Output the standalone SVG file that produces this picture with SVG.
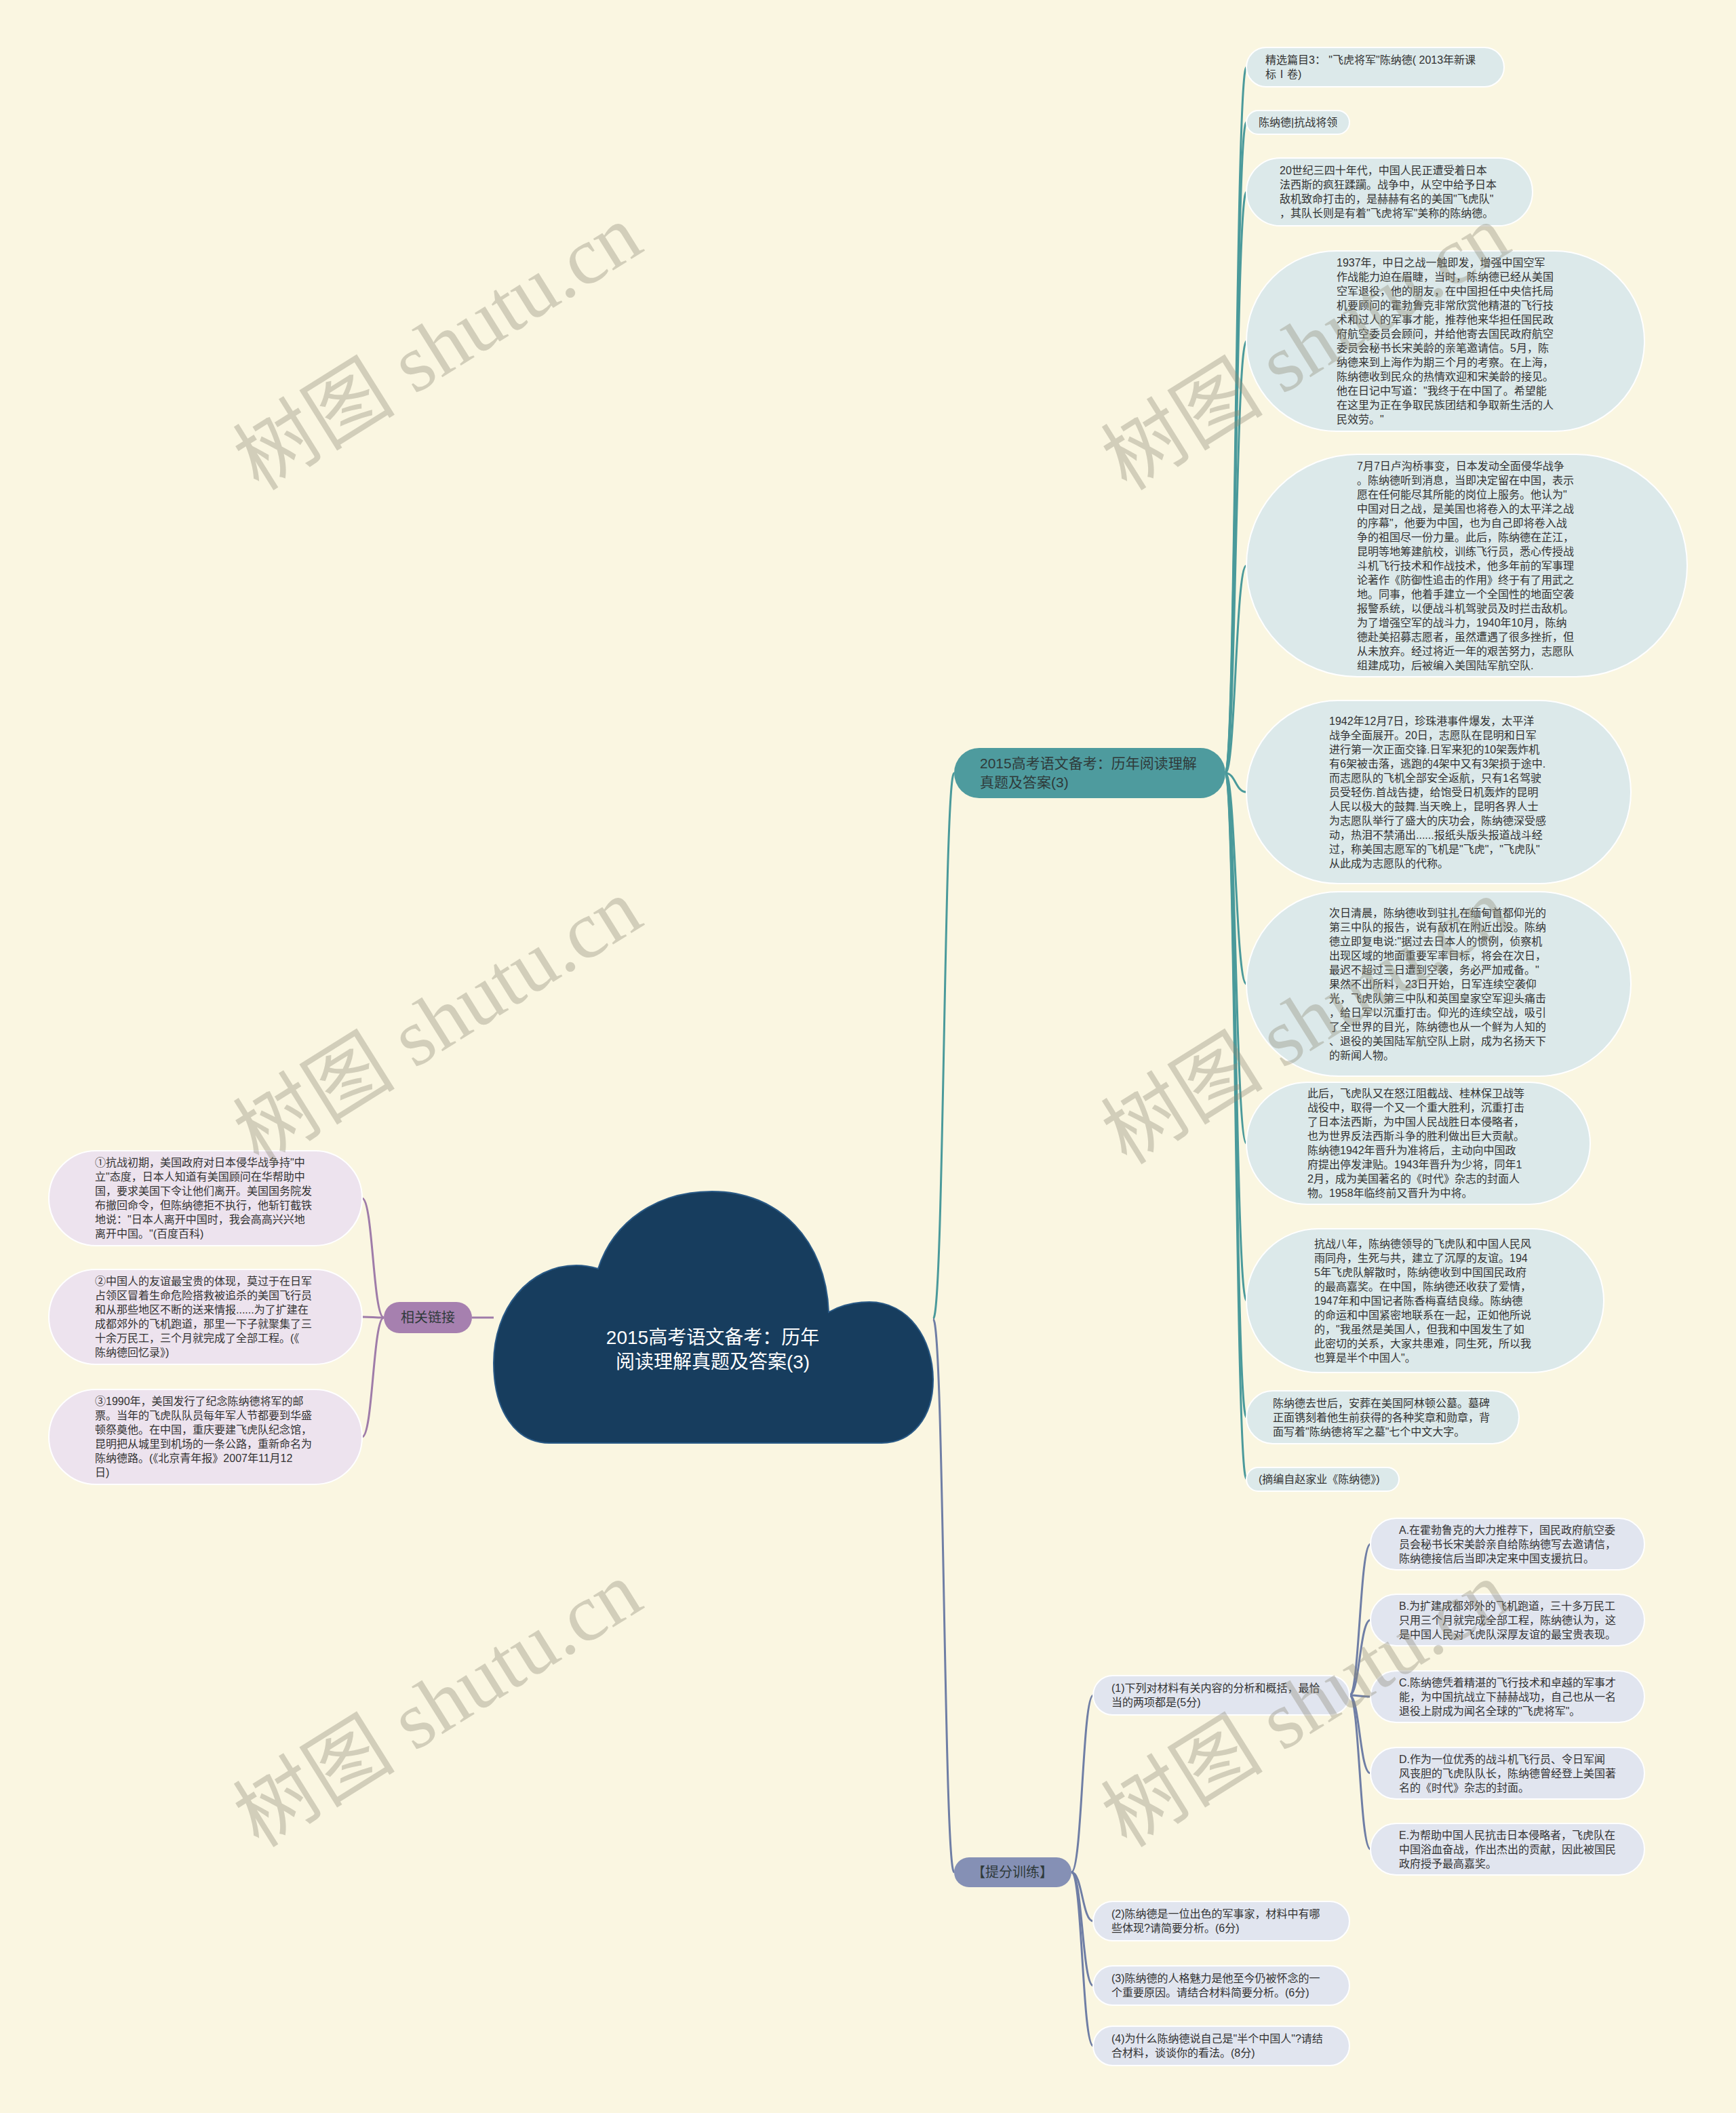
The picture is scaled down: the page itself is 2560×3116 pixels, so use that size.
<svg xmlns="http://www.w3.org/2000/svg" width="2560" height="3116" viewBox="0 0 2560 3116">
<style>
.t{font-family:"Liberation Sans","Noto Sans CJK SC",sans-serif;font-size:16px;fill:#333333}
.b{font-family:"Liberation Sans","Noto Sans CJK SC",sans-serif;font-size:21px;fill:#2f3a3a}
.lt{fill:#DCE9EA;stroke:#ffffff;stroke-width:2}
.lp{fill:#EDE3EE;stroke:#ffffff;stroke-width:2}
.ls{fill:#E1E5EF;stroke:#ffffff;stroke-width:2}
.ct{stroke:#4A9A9B;stroke-width:3;fill:none}
.cp{stroke:#9F7CA9;stroke-width:3;fill:none}
.cs{stroke:#6F7EA5;stroke-width:3;fill:none}
.wm{font-family:"Liberation Serif","Noto Sans CJK SC",serif;font-size:120px;fill:#8E8A76;opacity:0.36}
</style>
<rect x="0" y="0" width="2560" height="3116" fill="#FAF6E1"/>

<g id="connectors">
  <path class="ct" d="M1376 1945 C1392 1945 1392 1140 1407 1140"/>
  <path class="cs" d="M1376 1945 C1392 1945 1392 2761 1407 2761"/>
  <path class="cp" d="M728 1943 L696 1943"/>
  <path class="ct" d="M1807 1140 C1822 1140 1822 99 1838 99"/>
  <path class="ct" d="M1807 1140 C1822 1140 1822 180 1838 180"/>
  <path class="ct" d="M1807 1140 C1822 1140 1822 283 1838 283"/>
  <path class="ct" d="M1807 1140 C1822 1140 1822 503 1838 503"/>
  <path class="ct" d="M1807 1140 C1822 1140 1822 834 1838 834"/>
  <path class="ct" d="M1807 1140 C1822 1140 1822 1168 1838 1168"/>
  <path class="ct" d="M1807 1140 C1822 1140 1822 1451 1838 1451"/>
  <path class="ct" d="M1807 1140 C1822 1140 1822 1686 1838 1686"/>
  <path class="ct" d="M1807 1140 C1822 1140 1822 1918 1838 1918"/>
  <path class="ct" d="M1807 1140 C1822 1140 1822 2090 1838 2090"/>
  <path class="ct" d="M1807 1140 C1822 1140 1822 2181 1838 2181"/>
  <path class="cp" d="M566 1943 C550 1943 550 1767 534 1767"/>
  <path class="cp" d="M566 1943 C550 1943 550 1942 534 1942"/>
  <path class="cp" d="M566 1943 C550 1943 550 2119 534 2119"/>
  <path class="cs" d="M1580 2761 C1596 2761 1596 2500 1612 2500"/>
  <path class="cs" d="M1580 2761 C1596 2761 1596 2833 1612 2833"/>
  <path class="cs" d="M1580 2761 C1596 2761 1596 2928 1612 2928"/>
  <path class="cs" d="M1580 2761 C1596 2761 1596 3017 1612 3017"/>
  <path class="cs" d="M1990 2500 C2005 2500 2005 2277 2021 2277"/>
  <path class="cs" d="M1990 2500 C2005 2500 2005 2389 2021 2389"/>
  <path class="cs" d="M1990 2500 C2005 2500 2005 2502 2021 2502"/>
  <path class="cs" d="M1990 2500 C2005 2500 2005 2615 2021 2615"/>
  <path class="cs" d="M1990 2500 C2005 2500 2005 2727 2021 2727"/>
</g>

<g id="root">
  <path d="M810 2128 C760 2128 728 2080 728 2010 C728 1930 780 1866 850 1866 C862 1866 872 1868 882 1871 C905 1800 970 1757 1050 1757 C1150 1757 1218 1830 1222 1935 C1240 1925 1262 1920 1282 1920 C1340 1920 1376 1975 1376 2035 C1376 2090 1345 2128 1300 2128 Z" fill="#173D5E" stroke="#2A5A86" stroke-width="2"/>
  <text font-family="Liberation Sans,Noto Sans CJK SC,sans-serif" font-size="28" fill="#ffffff" text-anchor="middle"><tspan x="1051" y="1982">2015高考语文备考：历年</tspan><tspan x="1051" y="2018">阅读理解真题及答案(3)</tspan></text>
</g>

<g id="branch-main">
  <rect x="1407" y="1103" width="400" height="74" rx="37" fill="#4E9B9E"/>
  <text class="b"><tspan x="1445" y="1133">2015高考语文备考：历年阅读理解</tspan><tspan x="1445" y="1161">真题及答案(3)</tspan></text>
</g>
<g id="branch-links">
  <rect x="566" y="1920" width="130" height="46" rx="23" fill="#A680AF"/>
  <text class="b" style="font-size:20px" x="631" y="1950" text-anchor="middle">相关链接</text>
</g>
<g id="branch-train">
  <rect x="1407" y="2739" width="173" height="44" rx="22" fill="#8590B5"/>
  <text class="b" style="font-size:20px" x="1493" y="2768" text-anchor="middle">【提分训练】</text>
</g>

<g id="n1"><rect class="lt" x="1838" y="70" width="380" height="58" rx="29"/>
<text class="t"><tspan x="1866" y="94">精选篇目3： "飞虎将军"陈纳德( 2013年新课</tspan><tspan x="1866" y="115">标Ⅰ卷)</tspan></text></g>
<g id="n2"><rect class="lt" x="1838" y="163" width="152" height="35" rx="17.5"/>
<text class="t" x="1856" y="186">陈纳德|抗战将领</text></g>
<g id="n3"><rect class="lt" x="1838" y="233" width="422" height="100" rx="50"/>
<text class="t"><tspan x="1887" y="257">20世纪三四十年代，中国人民正遭受着日本</tspan><tspan x="1887" y="278">法西斯的疯狂蹂躏。战争中，从空中给予日本</tspan><tspan x="1887" y="299">敌机致命打击的，是赫赫有名的美国"飞虎队"</tspan><tspan x="1887" y="320">，其队长则是有着"飞虎将军"美称的陈纳德。</tspan></text></g>
<g id="n4"><rect class="lt" x="1838" y="370" width="587" height="266" rx="133"/>
<text class="t"><tspan x="1971" y="393">1937年，中日之战一触即发，增强中国空军</tspan><tspan x="1971" y="414">作战能力迫在眉睫，当时，陈纳德已经从美国</tspan><tspan x="1971" y="435">空军退役，他的朋友，在中国担任中央信托局</tspan><tspan x="1971" y="456">机要顾问的霍勃鲁克非常欣赏他精湛的飞行技</tspan><tspan x="1971" y="477">术和过人的军事才能，推荐他来华担任国民政</tspan><tspan x="1971" y="498">府航空委员会顾问，并给他寄去国民政府航空</tspan><tspan x="1971" y="519">委员会秘书长宋美龄的亲笔邀请信。5月，陈</tspan><tspan x="1971" y="540">纳德来到上海作为期三个月的考察。在上海，</tspan><tspan x="1971" y="561">陈纳德收到民众的热情欢迎和宋美龄的接见。</tspan><tspan x="1971" y="582">他在日记中写道："我终于在中国了。希望能</tspan><tspan x="1971" y="603">在这里为正在争取民族团结和争取新生活的人</tspan><tspan x="1971" y="624">民效劳。"</tspan></text></g>
<g id="n5"><rect class="lt" x="1838" y="670" width="650" height="328" rx="164"/>
<text class="t"><tspan x="2001" y="693">7月7日卢沟桥事变，日本发动全面侵华战争</tspan><tspan x="2001" y="714">。陈纳德听到消息，当即决定留在中国，表示</tspan><tspan x="2001" y="735">愿在任何能尽其所能的岗位上服务。他认为"</tspan><tspan x="2001" y="756">中国对日之战，是美国也将卷入的太平洋之战</tspan><tspan x="2001" y="777">的序幕"，他要为中国，也为自己即将卷入战</tspan><tspan x="2001" y="798">争的祖国尽一份力量。此后，陈纳德在芷江，</tspan><tspan x="2001" y="819">昆明等地筹建航校，训练飞行员，悉心传授战</tspan><tspan x="2001" y="840">斗机飞行技术和作战技术，他多年前的军事理</tspan><tspan x="2001" y="861">论著作《防御性追击的作用》终于有了用武之</tspan><tspan x="2001" y="882">地。同事，他着手建立一个全国性的地面空袭</tspan><tspan x="2001" y="903">报警系统，以便战斗机驾驶员及时拦击敌机。</tspan><tspan x="2001" y="924">为了增强空军的战斗力，1940年10月，陈纳</tspan><tspan x="2001" y="945">德赴美招募志愿者，虽然遭遇了很多挫折，但</tspan><tspan x="2001" y="966">从未放弃。经过将近一年的艰苦努力，志愿队</tspan><tspan x="2001" y="987">组建成功，后被编入美国陆军航空队.</tspan></text></g>
<g id="n6"><rect class="lt" x="1838" y="1033" width="567" height="270" rx="135"/>
<text class="t"><tspan x="1960" y="1069">1942年12月7日，珍珠港事件爆发，太平洋</tspan><tspan x="1960" y="1090">战争全面展开。20日，志愿队在昆明和日军</tspan><tspan x="1960" y="1111">进行第一次正面交锋.日军来犯的10架轰炸机</tspan><tspan x="1960" y="1132">有6架被击落，逃跑的4架中又有3架损于途中.</tspan><tspan x="1960" y="1153">而志愿队的飞机全部安全返航，只有1名驾驶</tspan><tspan x="1960" y="1174">员受轻伤.首战告捷，给饱受日机轰炸的昆明</tspan><tspan x="1960" y="1195">人民以极大的鼓舞.当天晚上，昆明各界人士</tspan><tspan x="1960" y="1216">为志愿队举行了盛大的庆功会，陈纳德深受感</tspan><tspan x="1960" y="1237">动，热泪不禁涌出......报纸头版头报道战斗经</tspan><tspan x="1960" y="1258">过，称美国志愿军的飞机是"飞虎"，"飞虎队"</tspan><tspan x="1960" y="1279">从此成为志愿队的代称。</tspan></text></g>
<g id="n7"><rect class="lt" x="1838" y="1315" width="567" height="272" rx="136"/>
<text class="t"><tspan x="1960" y="1352">次日清晨，陈纳德收到驻扎在缅甸首都仰光的</tspan><tspan x="1960" y="1373">第三中队的报告，说有敌机在附近出没。陈纳</tspan><tspan x="1960" y="1394">德立即复电说:"据过去日本人的惯例，侦察机</tspan><tspan x="1960" y="1415">出现区域的地面重要军率目标，将会在次日，</tspan><tspan x="1960" y="1436">最迟不超过三日遭到空袭，务必严加戒备。"</tspan><tspan x="1960" y="1457">果然不出所料，23日开始，日军连续空袭仰</tspan><tspan x="1960" y="1478">光，飞虎队第三中队和英国皇家空军迎头痛击</tspan><tspan x="1960" y="1499">，给日军以沉重打击。仰光的连续空战，吸引</tspan><tspan x="1960" y="1520">了全世界的目光，陈纳德也从一个鲜为人知的</tspan><tspan x="1960" y="1541">、退役的美国陆军航空队上尉，成为名扬天下</tspan><tspan x="1960" y="1562">的新闻人物。</tspan></text></g>
<g id="n8"><rect class="lt" x="1838" y="1596" width="507" height="180" rx="90"/>
<text class="t"><tspan x="1928" y="1618">此后，飞虎队又在怒江阻截战、桂林保卫战等</tspan><tspan x="1928" y="1639">战役中，取得一个又一个重大胜利，沉重打击</tspan><tspan x="1928" y="1660">了日本法西斯，为中国人民战胜日本侵略者，</tspan><tspan x="1928" y="1681">也为世界反法西斯斗争的胜利做出巨大贡献。</tspan><tspan x="1928" y="1702">陈纳德1942年晋升为准将后，主动向中国政</tspan><tspan x="1928" y="1723">府提出停发津贴。1943年晋升为少将，同年1</tspan><tspan x="1928" y="1744">2月，成为美国著名的《时代》杂志的封面人</tspan><tspan x="1928" y="1765">物。1958年临终前又晋升为中将。</tspan></text></g>
<g id="n9"><rect class="lt" x="1838" y="1812" width="527" height="212" rx="106"/>
<text class="t"><tspan x="1938" y="1840">抗战八年，陈纳德领导的飞虎队和中国人民风</tspan><tspan x="1938" y="1861">雨同舟，生死与共，建立了沉厚的友谊。194</tspan><tspan x="1938" y="1882">5年飞虎队解散时，陈纳德收到中国国民政府</tspan><tspan x="1938" y="1903">的最高嘉奖。在中国，陈纳德还收获了爱情，</tspan><tspan x="1938" y="1924">1947年和中国记者陈香梅喜结良缘。陈纳德</tspan><tspan x="1938" y="1945">的命运和中国紧密地联系在一起，正如他所说</tspan><tspan x="1938" y="1966">的，"我虽然是美国人，但我和中国发生了如</tspan><tspan x="1938" y="1987">此密切的关系，大家共患难，同生死，所以我</tspan><tspan x="1938" y="2008">也算是半个中国人"。</tspan></text></g>
<g id="n10"><rect class="lt" x="1838" y="2051" width="402" height="78" rx="39"/>
<text class="t"><tspan x="1877" y="2075">陈纳德去世后，安葬在美国阿林顿公墓。墓碑</tspan><tspan x="1877" y="2096">正面镌刻着他生前获得的各种奖章和勋章，背</tspan><tspan x="1877" y="2117">面写着"陈纳德将军之墓"七个中文大字。</tspan></text></g>
<g id="n11"><rect class="lt" x="1838" y="2164" width="225" height="35" rx="17.5"/>
<text class="t" x="1856" y="2187">(摘编自赵家业《陈纳德》)</text></g>

<g id="q1"><rect class="ls" x="1612" y="2471" width="378" height="58" rx="29"/>
<text class="t"><tspan x="1639" y="2495">(1)下列对材料有关内容的分析和概括，最恰</tspan><tspan x="1639" y="2516">当的两项都是(5分)</tspan></text></g>
<g id="q2"><rect class="ls" x="1612" y="2804" width="378" height="58" rx="29"/>
<text class="t"><tspan x="1639" y="2828">(2)陈纳德是一位出色的军事家，材料中有哪</tspan><tspan x="1639" y="2849">些体现?请简要分析。(6分)</tspan></text></g>
<g id="q3"><rect class="ls" x="1612" y="2899" width="378" height="58" rx="29"/>
<text class="t"><tspan x="1639" y="2923">(3)陈纳德的人格魅力是他至今仍被怀念的一</tspan><tspan x="1639" y="2944">个重要原因。请结合材料简要分析。(6分)</tspan></text></g>
<g id="q4"><rect class="ls" x="1612" y="2988" width="378" height="58" rx="29"/>
<text class="t"><tspan x="1639" y="3012">(4)为什么陈纳德说自己是"半个中国人"?请结</tspan><tspan x="1639" y="3033">合材料，谈谈你的看法。(8分)</tspan></text></g>

<g id="oA"><rect class="ls" x="2021" y="2239" width="404" height="76" rx="38"/>
<text class="t"><tspan x="2063" y="2262">A.在霍勃鲁克的大力推荐下，国民政府航空委</tspan><tspan x="2063" y="2283">员会秘书长宋美龄亲自给陈纳德写去邀请信，</tspan><tspan x="2063" y="2304">陈纳德接信后当即决定来中国支援抗日。</tspan></text></g>
<g id="oB"><rect class="ls" x="2021" y="2351" width="404" height="76" rx="38"/>
<text class="t"><tspan x="2063" y="2374">B.为扩建成都郊外的飞机跑道，三十多万民工</tspan><tspan x="2063" y="2395">只用三个月就完成全部工程，陈纳德认为，这</tspan><tspan x="2063" y="2416">是中国人民对飞虎队深厚友谊的最宝贵表现。</tspan></text></g>
<g id="oC"><rect class="ls" x="2021" y="2464" width="404" height="76" rx="38"/>
<text class="t"><tspan x="2063" y="2487">C.陈纳德凭着精湛的飞行技术和卓越的军事才</tspan><tspan x="2063" y="2508">能，为中国抗战立下赫赫战功，自己也从一名</tspan><tspan x="2063" y="2529">退役上尉成为闻名全球的"飞虎将军"。</tspan></text></g>
<g id="oD"><rect class="ls" x="2021" y="2577" width="404" height="76" rx="38"/>
<text class="t"><tspan x="2063" y="2600">D.作为一位优秀的战斗机飞行员、令日军闻</tspan><tspan x="2063" y="2621">风丧胆的飞虎队队长，陈纳德曾经登上美国著</tspan><tspan x="2063" y="2642">名的《时代》杂志的封面。</tspan></text></g>
<g id="oE"><rect class="ls" x="2021" y="2689" width="404" height="76" rx="38"/>
<text class="t"><tspan x="2063" y="2712">E.为帮助中国人民抗击日本侵略者，飞虎队在</tspan><tspan x="2063" y="2733">中国浴血奋战，作出杰出的贡献，因此被国民</tspan><tspan x="2063" y="2754">政府授予最高嘉奖。</tspan></text></g>

<g id="l1"><rect class="lp" x="72" y="1697" width="462" height="140" rx="70"/>
<text class="t"><tspan x="140" y="1720">①抗战初期，美国政府对日本侵华战争持"中</tspan><tspan x="140" y="1741">立"态度，日本人知道有美国顾问在华帮助中</tspan><tspan x="140" y="1762">国，要求美国下令让他们离开。美国国务院发</tspan><tspan x="140" y="1783">布撤回命令，但陈纳德拒不执行，他斩钉截铁</tspan><tspan x="140" y="1804">地说："日本人离开中国时，我会高高兴兴地</tspan><tspan x="140" y="1825">离开中国。"(百度百科)</tspan></text></g>
<g id="l2"><rect class="lp" x="72" y="1872" width="462" height="140" rx="70"/>
<text class="t"><tspan x="140" y="1895">②中国人的友谊最宝贵的体现，莫过于在日军</tspan><tspan x="140" y="1916">占领区冒着生命危险搭救被追杀的美国飞行员</tspan><tspan x="140" y="1937">和从那些地区不断的送来情报......为了扩建在</tspan><tspan x="140" y="1958">成都郊外的飞机跑道，那里一下子就聚集了三</tspan><tspan x="140" y="1979">十余万民工，三个月就完成了全部工程。(《</tspan><tspan x="140" y="2000">陈纳德回忆录》)</tspan></text></g>
<g id="l3"><rect class="lp" x="72" y="2049" width="462" height="140" rx="70"/>
<text class="t"><tspan x="140" y="2072">③1990年，美国发行了纪念陈纳德将军的邮</tspan><tspan x="140" y="2093">票。当年的飞虎队队员每年军人节都要到华盛</tspan><tspan x="140" y="2114">顿祭奠他。在中国，重庆要建飞虎队纪念馆，</tspan><tspan x="140" y="2135">昆明把从城里到机场的一条公路，重新命名为</tspan><tspan x="140" y="2156">陈纳德路。(《北京青年报》2007年11月12</tspan><tspan x="140" y="2177">日)</tspan></text></g>

<g id="watermarks">
  <text class="wm" x="646" y="553" text-anchor="middle" transform="rotate(-32 646 513)">树图 shutu.cn</text>
  <text class="wm" x="646" y="1547" text-anchor="middle" transform="rotate(-32 646 1507)">树图 shutu.cn</text>
  <text class="wm" x="646" y="2554" text-anchor="middle" transform="rotate(-32 646 2514)">树图 shutu.cn</text>
  <text class="wm" x="1926" y="553" text-anchor="middle" transform="rotate(-32 1926 513)">树图 shutu.cn</text>
  <text class="wm" x="1926" y="1547" text-anchor="middle" transform="rotate(-32 1926 1507)">树图 shutu.cn</text>
  <text class="wm" x="1926" y="2554" text-anchor="middle" transform="rotate(-32 1926 2514)">树图 shutu.cn</text>
</g>
</svg>
